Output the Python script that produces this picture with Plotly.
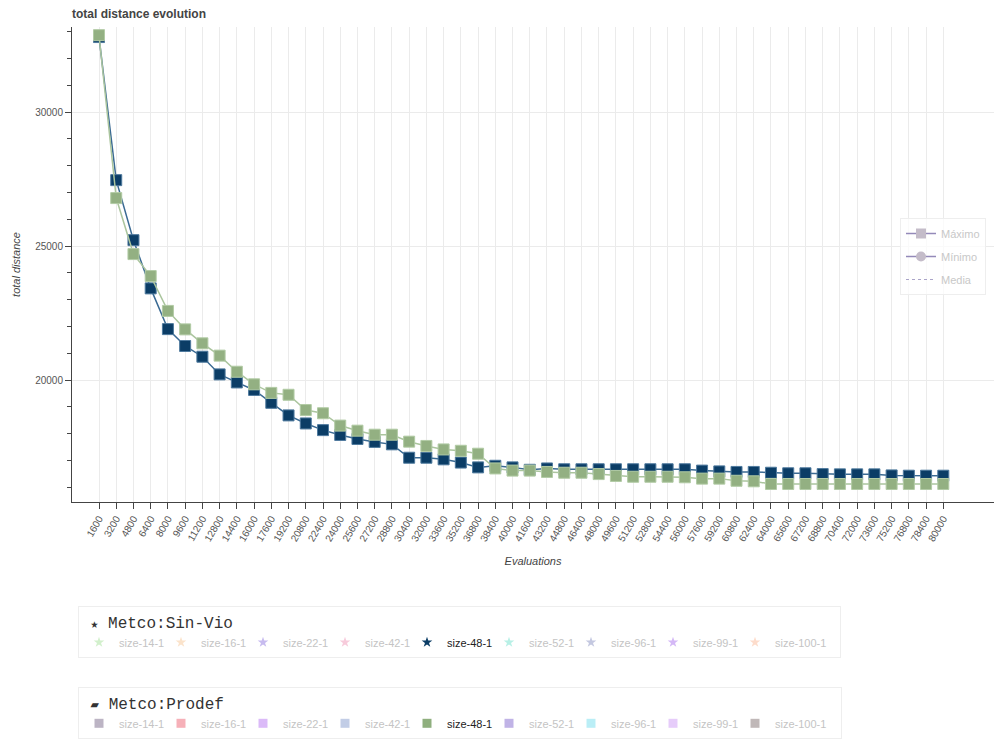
import plotly.graph_objects as go

# Evaluation checkpoints (x axis)
evaluations = [
    1600, 3200, 4800, 6400, 8000, 9600, 11200, 12800, 14400, 16000,
    17600, 19200, 20800, 22400, 24000, 25600, 27200, 28800, 30400, 32000,
    33600, 35200, 36800, 38400, 40000, 41600, 43200, 44800, 46400, 48000,
    49600, 51200, 52800, 54400, 56000, 57600, 59200, 60800, 62400, 64000,
    65600, 67200, 68800, 70400, 72000, 73600, 75200, 76800, 78400, 80000,
]

# Maximum total distance per checkpoint, Metco:Sin-Vio, size-48-1
sin_vio_48 = [
    32800, 27460, 25220, 23420, 21900, 21270, 20870, 20210, 19910, 19630,
    19150, 18680, 18380, 18130, 17950, 17800, 17690, 17600, 17100, 17100,
    17040, 16920, 16740, 16800, 16740, 16650, 16700, 16670, 16670, 16670,
    16670, 16670, 16670, 16670, 16670, 16620, 16590, 16570, 16570, 16540,
    16520, 16520, 16490, 16480, 16480, 16480, 16440, 16430, 16430, 16430,
]

# Maximum total distance per checkpoint, Metco:Prodef, size-48-1
prodef_48 = [
    32870, 26790, 24700, 23880, 22580, 21890, 21370, 20910, 20310, 19840,
    19520, 19450, 18880, 18760, 18300, 18110, 17960, 17960, 17700, 17540,
    17410, 17360, 17250, 16700, 16620, 16620, 16570, 16540, 16540, 16490,
    16420, 16390, 16390, 16390, 16370, 16320, 16320, 16240, 16220, 16120,
    16120, 16120, 16120, 16120, 16120, 16120, 16120, 16120, 16120, 16120,
]

instances = ["size-14-1", "size-16-1", "size-22-1", "size-42-1", "size-48-1",
             "size-52-1", "size-96-1", "size-99-1", "size-100-1"]
sin_vio_colors = ["#d2f0cc", "#fbe3cb", "#c7bbef", "#f7cbdb", "#0b3d66",
                  "#b8f0e6", "#c4c8e0", "#d4b8f6", "#fddccb"]
prodef_colors = ["#bcb4c4", "#f6b0b8", "#dbbaf8", "#c2cde6", "#8faf7e",
                 "#c0b3e6", "#baeef6", "#e6ccfa", "#c0b8b8"]
active_instance = "size-48-1"

stat_names = ["Máximo", "Mínimo", "Media"]

W, H = 996, 747
M_L, M_R, M_T, M_B = 72, 2, 27, 245
PLOT_W, PLOT_H = W - M_L - M_R, H - M_T - M_B
BLUE, BLUE_LINE = "#0b3d66", "#3a6a93"
GREEN, GREEN_LINE = "#93b082", "#abc59e"
FONT = "Liberation Sans, Arial, sans-serif"
MONO = "Liberation Mono, Courier New, monospace"

fig = go.Figure()

# plotted series
fig.add_trace(go.Scatter(
    x=evaluations, y=sin_vio_48, mode="lines+markers", showlegend=False,
    line=dict(color=BLUE_LINE, width=1.5),
    marker=dict(symbol="square", size=11, color=BLUE,
                line=dict(color="#4f7a9e", width=1)),
))
fig.add_trace(go.Scatter(
    x=evaluations, y=prodef_48, mode="lines+markers", showlegend=False,
    line=dict(color=GREEN_LINE, width=1.5),
    marker=dict(symbol="square", size=11, color=GREEN,
                line=dict(color="#b2cba5", width=1)),
))

# statistic legend (muted entries)
stat_styles = [
    dict(mode="lines+markers", line=dict(color="#948ab9", width=1.5),
         marker=dict(symbol="square", size=10, color="#c4bcc9")),
    dict(mode="lines+markers", line=dict(color="#948ab9", width=1.5),
         marker=dict(symbol="circle", size=10, color="#c4bcc9")),
    dict(mode="lines", line=dict(color="#aaa4c8", width=1, dash="3px,3px")),
]
for i, (name, st) in enumerate(zip(stat_names, stat_styles)):
    fig.add_trace(go.Scatter(x=[None], y=[None], name=name, legend="legend",
                             legendgroup=f"stat{i}", **st))


def entry_name(inst):
    col = "#222222" if inst == active_instance else "#c4c4c4"
    return f'<span style="color:{col}">{inst}</span>'


for inst, col in zip(instances, sin_vio_colors):
    fig.add_trace(go.Scatter(
        x=[None], y=[None], mode="markers", name=entry_name(inst),
        legend="legend2",
        marker=dict(symbol="star", size=8, color=col),
    ))
for inst, col in zip(instances, prodef_colors):
    fig.add_trace(go.Scatter(
        x=[None], y=[None], mode="markers", name=entry_name(inst),
        legend="legend3",
        marker=dict(symbol="square", size=9, color=col),
    ))

bottom_legend = dict(
    orientation="h", xref="container", yref="container",
    xanchor="left", yanchor="top",
    bgcolor="white", bordercolor="#eeeeee", borderwidth=1,
    font=dict(family=FONT, size=11, color="#c4c4c4"),
    entrywidth=37, entrywidthmode="pixels",
)


def group_title(glyph, size, label, pad):
    # trailing non-breaking spaces widen the box past the last entry
    text = (f'&nbsp;<span style="font-size:{size}px">{glyph}</span>'
            f'&nbsp;{label}' + "&nbsp;" * pad)
    return dict(text=text, side="top",
                font=dict(family=MONO, size=16, color="#333333"))


fig.update_layout(
    width=W, height=H,
    paper_bgcolor="white", plot_bgcolor="white",
    margin=dict(l=M_L, r=M_R, t=M_T, b=M_B),
    font=dict(family=FONT, size=10, color="#444444"),
    title=dict(text="<b>total distance evolution</b>", xref="container",
               yref="container", x=72 / W, xanchor="left",
               y=1 - 14 / H, yanchor="middle",
               font=dict(family=FONT, size=12, color="#444444")),
    xaxis=dict(
        range=[-907, 84708], tickmode="array", tickvals=evaluations,
        ticktext=[str(v) for v in evaluations], tickangle=-60,
        showgrid=True, gridcolor="#ebebeb", gridwidth=1, zeroline=False,
        showline=True, linecolor="#444444", linewidth=1,
        ticks="outside", ticklen=6, tickcolor="#444444",
        tickfont=dict(family=FONT, size=10, color="#555555"),
        title=dict(text="<i>Evaluations</i>", standoff=14,
                   font=dict(family=FONT, size=11, color="#444444")),
    ),
    yaxis=dict(
        range=[15448, 33175], tick0=0, dtick=5000, tickformat="d",
        showgrid=True, gridcolor="#ebebeb", gridwidth=1, zeroline=False,
        showline=True, linecolor="#444444", linewidth=1,
        ticks="outside", ticklen=6, tickcolor="#444444",
        tickfont=dict(family=FONT, size=10, color="#555555"),
        minor=dict(dtick=1000, tick0=0, ticks="outside", ticklen=4,
                   tickcolor="#444444", showgrid=False),
        title=dict(text="<i>total distance</i>", standoff=12,
                   font=dict(family=FONT, size=11, color="#444444")),
    ),
    legend=dict(
        xref="paper", yref="paper",
        x=(900 - M_L) / PLOT_W, y=1 - (218 - M_T) / PLOT_H,
        xanchor="left", yanchor="top",
        bgcolor="rgba(255,255,255,0.75)", bordercolor="#eeeeee",
        borderwidth=1, tracegroupgap=4, traceorder="grouped",
        font=dict(family=FONT, size=11, color="#c8c8c8"),
    ),
    legend2=dict(x=78 / W, y=1 - 606 / H,
                 title=group_title("★", 13, "Metco:Sin-Vio", 63),
                 **bottom_legend),
    legend3=dict(x=78 / W, y=1 - 687 / H,
                 title=group_title("▰", 14, "Metco:Prodef", 64),
                 **bottom_legend),
)

fig.write_html("out.html")
